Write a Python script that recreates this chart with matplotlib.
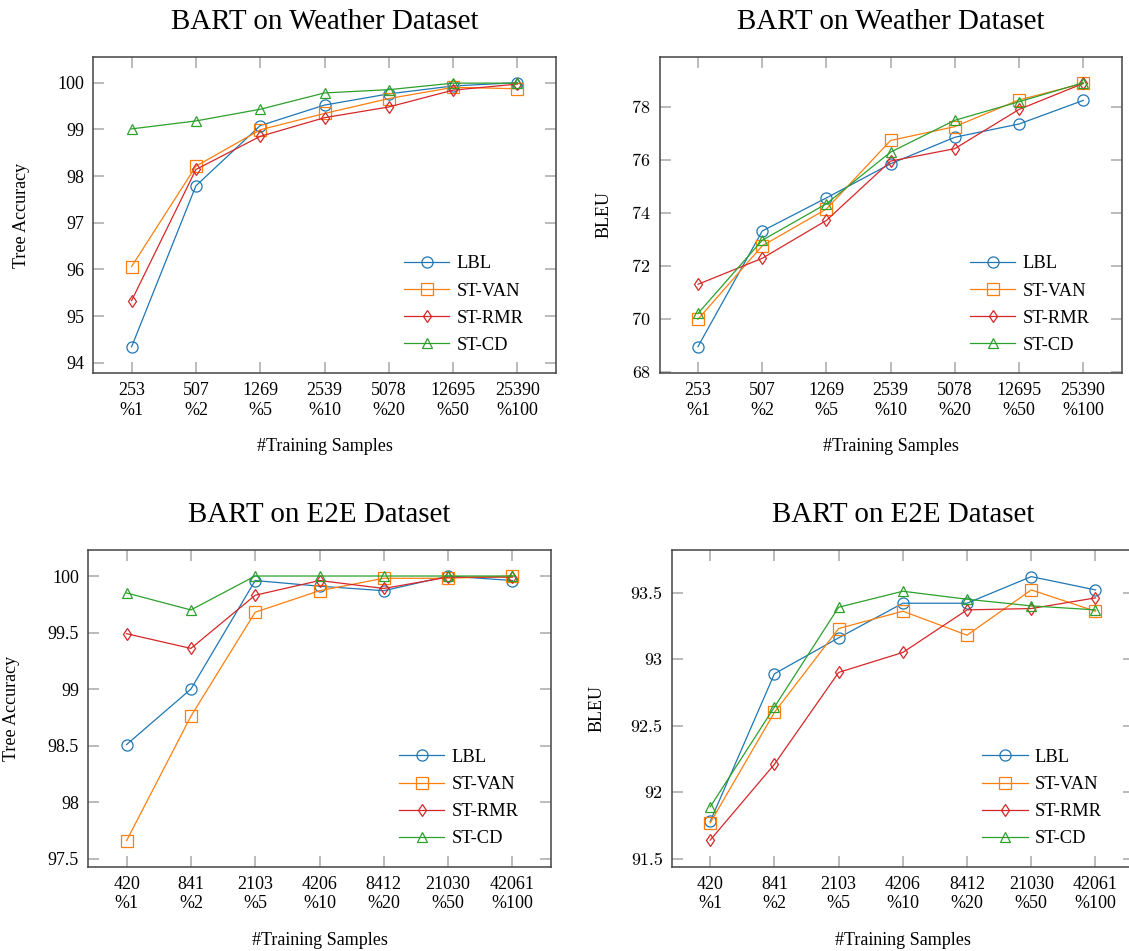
import matplotlib
matplotlib.use("Agg")
import matplotlib.pyplot as plt
from matplotlib.ticker import FuncFormatter, FixedLocator

# ---------------- data ----------------
series_names = ["LBL", "ST-VAN", "ST-RMR", "ST-CD"]

weather_samples = ["253", "507", "1269", "2539", "5078", "12695", "25390"]
e2e_samples = ["420", "841", "2103", "4206", "8412", "21030", "42061"]
percents = ["%1", "%2", "%5", "%10", "%20", "%50", "%100"]

weather_tree_lbl = [94.34, 97.79, 99.08, 99.52, 99.76, 99.93, 100.0]
weather_tree_van = [96.06, 98.21, 98.99, 99.34, 99.66, 99.90, 99.87]
weather_tree_rmr = [95.33, 98.14, 98.85, 99.25, 99.48, 99.84, 99.97]
weather_tree_cd = [99.01, 99.18, 99.43, 99.78, 99.85, 99.99, 99.99]

weather_bleu_lbl = [68.95, 73.31, 74.56, 75.85, 76.85, 77.35, 78.24]
weather_bleu_van = [69.98, 72.75, 74.14, 76.73, 77.25, 78.26, 78.88]
weather_bleu_rmr = [71.30, 72.28, 73.71, 75.95, 76.42, 77.90, 78.88]
weather_bleu_cd = [70.20, 72.96, 74.34, 76.29, 77.49, 78.19, 78.91]

e2e_tree_lbl = [98.51, 99.00, 99.96, 99.91, 99.87, 100.0, 99.96]
e2e_tree_van = [97.66, 98.76, 99.68, 99.87, 99.98, 99.98, 100.0]
e2e_tree_rmr = [99.49, 99.36, 99.83, 99.96, 99.89, 99.99, 99.99]
e2e_tree_cd = [99.85, 99.70, 100.0, 100.0, 100.0, 100.0, 100.0]

e2e_bleu_lbl = [91.78, 92.89, 93.16, 93.42, 93.42, 93.62, 93.52]
e2e_bleu_van = [91.77, 92.60, 93.23, 93.36, 93.18, 93.52, 93.36]
e2e_bleu_rmr = [91.64, 92.21, 92.90, 93.05, 93.37, 93.38, 93.46]
e2e_bleu_cd = [91.89, 92.64, 93.39, 93.51, 93.45, 93.40, 93.37]

# ---------------- style ----------------
colors = ["#1f77b4", "#ff7f0e", "#d62728", "#2ca02c"]
markers = ["o", "s", "d", "^"]
msizes = [8, 8, 6, 7.5]

serif = ["Liberation Serif", "DejaVu Serif"]
plt.rcParams["font.family"] = serif
plt.rcParams["axes.formatter.use_mathtext"] = False

W, H = 1129, 951
fig = plt.figure(figsize=(W / 100, H / 100), dpi=100)


def px_rect(left, top, right, bottom):
    return [left / W, 1 - bottom / H, (right - left) / W, (bottom - top) / H]


panels = [
    dict(rect=px_rect(93, 57, 556, 373), title="BART on Weather Dataset",
         ylabel="Tree Accuracy", samples=weather_samples,
         data=[weather_tree_lbl, weather_tree_van, weather_tree_rmr, weather_tree_cd],
         ylim=(93.78, 100.55), yticks=[94, 95, 96, 97, 98, 99, 100],
         ylab_x=22, yfont="Liberation Serif"),
    dict(rect=px_rect(659.5, 57, 1121.7, 373), title="BART on Weather Dataset",
         ylabel="BLEU", samples=weather_samples,
         data=[weather_bleu_lbl, weather_bleu_van, weather_bleu_rmr, weather_bleu_cd],
         ylim=(67.95, 79.88), yticks=[68, 70, 72, 74, 76, 78],
         ylab_x=604, yfont="cmr10"),
    dict(rect=px_rect(88, 550, 551, 866.7), title="BART on E2E Dataset",
         ylabel="Tree Accuracy", samples=e2e_samples,
         data=[e2e_tree_lbl, e2e_tree_van, e2e_tree_rmr, e2e_tree_cd],
         ylim=(97.43, 100.23), yticks=[97.5, 98, 98.5, 99, 99.5, 100],
         ylab_x=12, yfont="Liberation Serif"),
    dict(rect=px_rect(671.7, 550, 1134, 866.7), title="BART on E2E Dataset",
         ylabel="BLEU", samples=e2e_samples,
         data=[e2e_bleu_lbl, e2e_bleu_van, e2e_bleu_rmr, e2e_bleu_cd],
         ylim=(91.44, 93.82), yticks=[91.5, 92, 92.5, 93, 93.5],
         ylab_x=597, yfont="cmr10"),
]

fs = 13
lfs = 13.3
for p in panels:
    ax = fig.add_axes(p["rect"])
    x = list(range(len(p["samples"])))
    for name, vals, c, m, ms in zip(series_names, p["data"], colors, markers, msizes):
        ax.plot(x, vals, color=c, lw=0.9, marker=m, markersize=ms,
                markerfacecolor="none", markeredgecolor=c, markeredgewidth=0.9,
                label=name)
    ax.set_xlim(-0.6, 6.6)
    ax.set_ylim(*p["ylim"])
    ax.tick_params(direction="in", length=8, width=1.1, color="#a8a8a8",
                   top=True, right=True, pad=6.5, labelsize=fs)
    ax.tick_params(axis="y", labelfontfamily=p["yfont"])
    ax.xaxis.set_major_locator(FixedLocator(x))
    ax.set_xticklabels([f"{s}\n{q}" for s, q in zip(p["samples"], percents)],
                       fontsize=fs, linespacing=1.2)
    ax.yaxis.set_major_locator(FixedLocator(p["yticks"]))
    ax.yaxis.set_major_formatter(FuncFormatter(lambda v, pos: f"{v:g}"))
    for sp in ax.spines.values():
        sp.set_color("#444444")
        sp.set_linewidth(1.1)

    l, b, w, h = p["rect"]
    ax_left_px = l * W
    ax_w_px = w * W
    ax.set_ylabel(p["ylabel"], fontsize=fs, va="center")
    ax.yaxis.set_label_coords((p["ylab_x"] - ax_left_px) / ax_w_px, 0.5)
    ax.set_xlabel("#Training Samples", fontsize=fs, va="center")
    ax.xaxis.set_label_coords(0.5, -0.232)
    ax.set_title(p["title"], fontsize=20.9, y=1.11, va="center", pad=0)

    ax.legend(loc="upper left", bbox_to_anchor=(0.672, 0.372), frameon=False,
              fontsize=lfs, handlelength=2.45, handletextpad=0.38,
              labelspacing=0.55, borderpad=0, borderaxespad=0)

fig.savefig("out.png", dpi=100)
